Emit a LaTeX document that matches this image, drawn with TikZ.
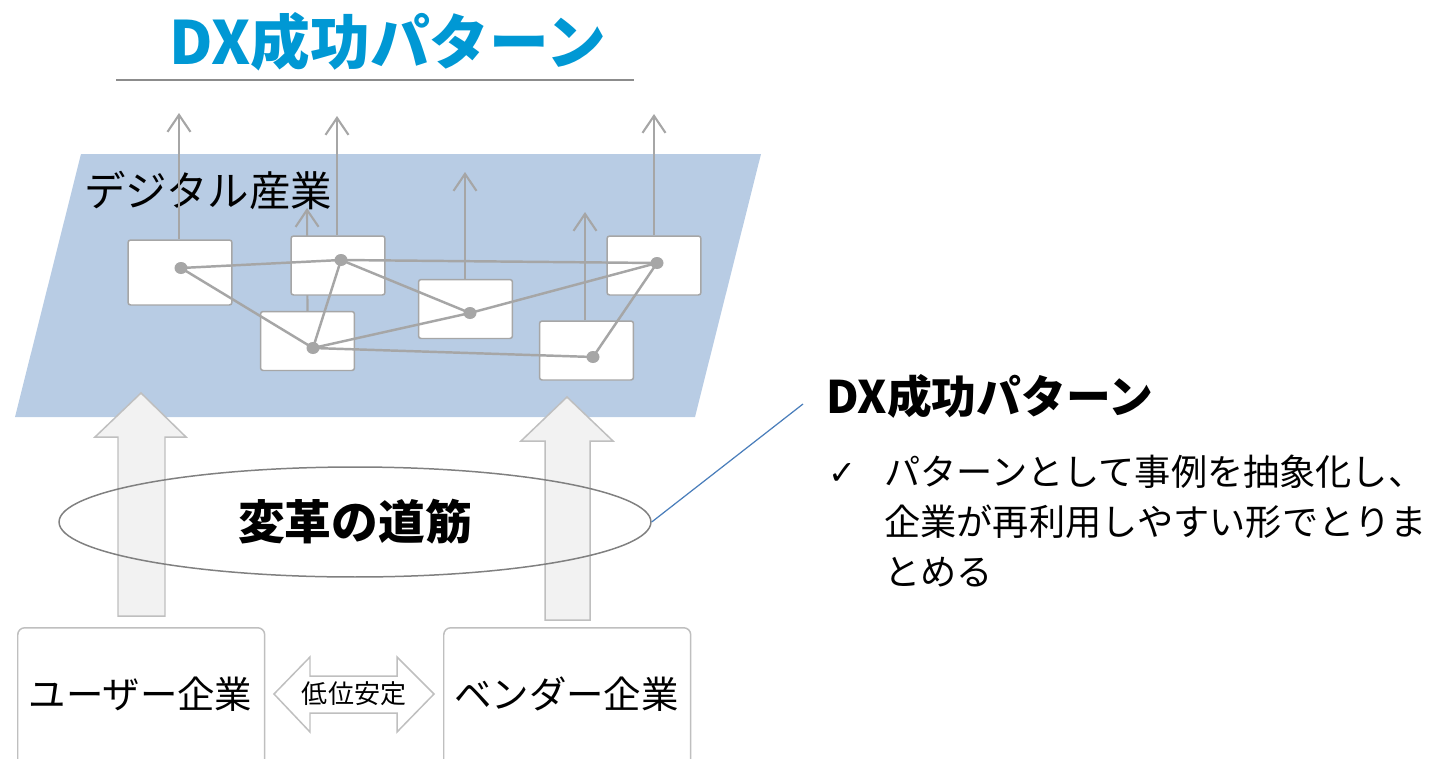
\documentclass[tikz,border=0pt]{standalone}
\usepackage{fontspec}
\setmainfont{Noto Sans CJK JP}
\newfontfamily\symfont{DejaVu Sans}
\usetikzlibrary{arrows.meta,shapes.geometric}
\definecolor{titleblue}{HTML}{0098D4}
\definecolor{planeblue}{HTML}{B8CCE4}
\definecolor{netgray}{HTML}{A6A6A6}
\definecolor{arrowfill}{HTML}{F2F2F2}
\definecolor{arrowdraw}{HTML}{BFBFBF}
\definecolor{ellgray}{HTML}{808080}
\definecolor{rulegray}{HTML}{8C8C8C}
\definecolor{leadblue}{HTML}{4A7EBB}
\begin{document}
\begin{tikzpicture}[x=0.02cm,y=-0.02cm,
  netbox/.style={draw=netgray,line width=0.85pt,fill=white,rounded corners=1.5pt,inner sep=0,minimum width=1.88cm,minimum height=1.18cm},
  netdot/.style={ellipse,fill=netgray,inner sep=0,minimum width=0.26cm,minimum height=0.24cm},
  link/.style={draw=netgray,line width=1.4pt},
  uparrow/.style={draw=netgray,line width=1.2pt,-{Straight Barb[length=0.34cm,width=0.46cm]}},
  blockarrow/.style={fill=arrowfill,draw=arrowdraw,line width=0.85pt,line join=miter},
  bottombox/.style={draw=arrowdraw,line width=0.85pt,rounded corners=4pt,inner sep=0,minimum width=4.94cm,minimum height=3.4cm,anchor=north west},
  boxlabel/.style={font=\fontsize{21.3}{24}\selectfont,inner sep=0},
]
\useasboundingbox (0,0) rectangle (1448,758);
\clip (0,0) rectangle (1448,758);

% title
\node[font=\fontsize{34}{40}\selectfont\bfseries,text=titleblue,inner sep=0] (title) at (388,42) {DX成功パターン};
\coordinate (ruleL) at (116,80);
\coordinate (ruleR) at (634,80);
\draw[rulegray,line width=1.1pt] (ruleL) -- (ruleR);

% plane
\fill[planeblue] (81,154) -- (761,154) -- (695,417) -- (15,417) -- cycle;
\node[anchor=west,inner sep=0,font=\fontsize{23.6}{26}\selectfont] (digital) at (84,190) {デジタル産業};

% tips of the upward arrows
\coordinate (t1) at (179,113);
\coordinate (t2) at (337,116);
\coordinate (t3) at (465,172);
\coordinate (t4) at (307,208);
\coordinate (t5) at (585,212);
\coordinate (t6) at (654,114);

% boxes
\node[netbox] (b4) at (307.5,341) {};
\draw[uparrow] (b4.north) -- (t4);
\node[netbox,minimum width=2.08cm,minimum height=1.30cm] (b1) at (180,272.5) {};
\node[netbox] (b2) at (338,265.5) {};
\node[netbox] (b3) at (465.5,309) {};
\node[netbox] (b5) at (586.5,350.5) {};
\node[netbox] (b6) at (654,265.5) {};

\draw[uparrow] (b1.north -| t1) -- (t1);
\draw[uparrow] (b2.north -| t2) -- (t2);
\draw[uparrow] (b3.north -| t3) -- (t3);
\draw[uparrow] (b5.north -| t5) -- (t5);
\draw[uparrow] (b6.north -| t6) -- (t6);

% dots
\node[netdot] (d1) at (181,268) {};
\node[netdot] (d2) at (341,260) {};
\node[netdot] (d3) at (470,313) {};
\node[netdot] (d4) at (313,348) {};
\node[netdot] (d5) at (593,357) {};
\node[netdot] (d6) at (657,263) {};

\draw[link] (d1.center) -- (d2.center);
\draw[link] (d1.center) -- (d4.center);
\draw[link] (d2.center) -- (d6.center);
\draw[link] (d2.center) -- (d3.center);
\draw[link] (d2.center) -- (d4.center);
\draw[link] (d4.center) -- (d3.center);
\draw[link] (d3.center) -- (d6.center);
\draw[link] (d4.center) -- (d5.center);
\draw[link] (d5.center) -- (d6.center);

% bottom boxes
\node[bottombox] (user) at (17,627) {};
\node[bottombox] (vendor) at (443,627) {};
\node[boxlabel] (usertext) at (140.5,694) {ユーザー企業};
\node[boxlabel] (vendortext) at (566.5,694) {ベンダー企業};

% block arrows
\draw[blockarrow] (141,393) -- (186,437) -- (165,437) -- (165,616) -- (118,616) -- (118,437) -- (95,437) -- cycle;
\draw[blockarrow] (567,397) -- (613,441) -- (590,441) -- (590,620) -- (545,620) -- (545,441) -- (521,441) -- cycle;

% double arrow
\draw[fill=white,draw=arrowdraw,line width=0.85pt,line join=miter] (274,694) -- (310,657) -- (310,676) -- (397,676) -- (397,657) -- (434,694) -- (397,732) -- (397,713) -- (310,713) -- (310,732) -- cycle;
\node[inner sep=0,font=\fontsize{14.8}{17}\selectfont] (stable) at (354,694) {低位安定};

% ellipse
\node[ellipse,draw=ellgray,line width=0.85pt,minimum width=11.84cm,minimum height=2.2cm,inner sep=0,font=\fontsize{26.6}{30}\selectfont\bfseries] (way) at (355,522) {変革の道筋};

% leader and right text
\coordinate (lead) at (803,404);
\draw[leadblue,line width=0.7pt] (way.east) -- (lead);
\node[anchor=west,inner sep=0,font=\fontsize{25.5}{30}\selectfont\bfseries] (head) at (826,396) {DX成功パターン};
\node[inner sep=0,font=\symfont\bfseries\fontsize{19}{22}\selectfont] (chk) at (842,474) {✓};
\node[anchor=north west,inner sep=0,align=left,font=\fontsize{20.6}{28.4}\selectfont] (desc) at (884,455) {パターンとして事例を抽象化し、\\企業が再利用しやすい形でとりま\\とめる};
\end{tikzpicture}
\end{document}
